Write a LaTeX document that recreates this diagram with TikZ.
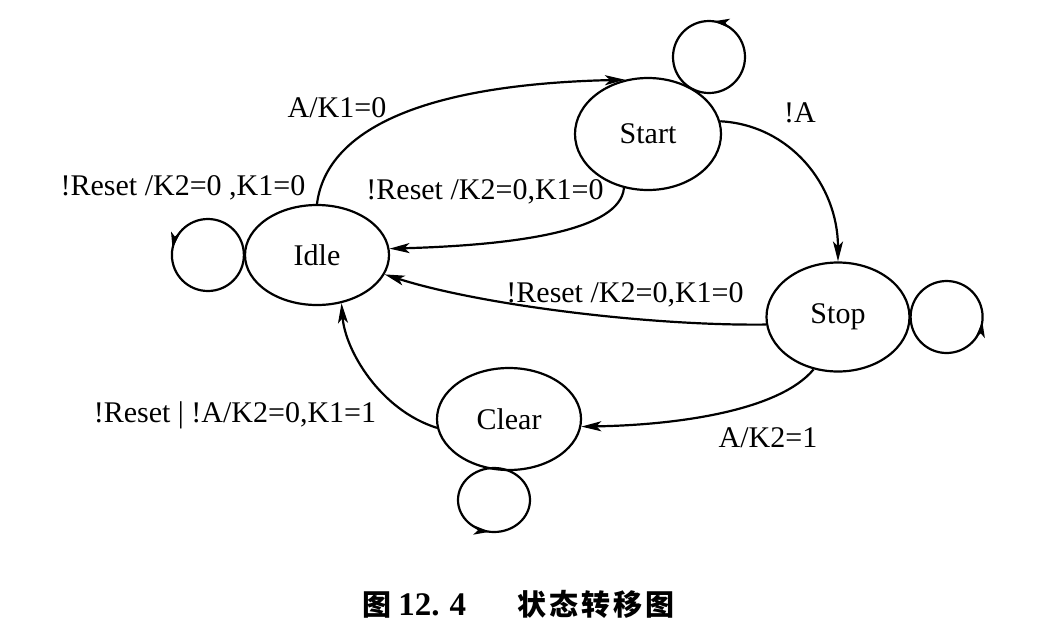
\documentclass[tikz,border=0pt]{standalone}
\usepackage{fontspec}
\setmainfont{Liberation Serif}
\newfontfamily\cjk{Noto Sans CJK SC}
\usetikzlibrary{arrows.meta,shapes.geometric,decorations.markings,calc}
\begin{document}
\begin{tikzpicture}[x=0.5pt,y=-0.5pt,
  state/.style={ellipse,draw,line width=1.1pt,inner sep=0pt,font=\fontsize{15}{18}\selectfont},
  tip/.style={-{Stealth[length=10pt,width=5pt,inset=2.5pt]}},
  trans/.style={line width=1.1pt,tip},
  lbl/.style={inner sep=0pt,font=\fontsize{15}{18}\selectfont},
  selfloop/.style={line width=1.1pt,decoration={markings,mark=at position #1 with {\arrow{Stealth[length=8pt,width=4.5pt,inset=2pt]}}},postaction=decorate},
  selfloop/.default=0.5
]
\fill[white] (0,0) rectangle (1045,633);
\useasboundingbox (0,0) rectangle (1045,633);

% states
\node[state,minimum width=72pt,minimum height=50pt] (idle) at (317,255) {Idle};
\node[state,minimum width=73pt,minimum height=56pt] (start) at (648,134) {Start};
\node[state,minimum width=71.5pt,minimum height=54.5pt] (stop) at (838,317) {Stop};
\node[state,minimum width=72pt,minimum height=51pt] (clear) at (509,419) {Clear};

% transitions
\draw[trans] (idle.north) .. controls (325,140) and (400,85) .. (start.113);
\draw[trans] (start.246) .. controls (620,230) and (520,245) .. (idle.5);
\draw[trans] (start.10) .. controls (790,125) and (838,185) .. (stop.north);
\draw[trans] (stop.186) .. controls (650,326) and (480,305) .. (idle.344);
\draw[trans] (stop.245) .. controls (780,410) and (680,425) .. (clear.354);
\draw[trans] (clear.187) .. controls (380,410) and (345,350) .. (idle.297);

% self loops
\draw[selfloop=0.47] (idle.west) arc[start angle=0,delta angle=360,radius=18pt];
\draw[selfloop=0.23] ($(start.center)+(97,-77)$) arc[start angle=0,delta angle=360,radius=18pt];
\draw[selfloop=0.48] (stop.east) arc[start angle=180,delta angle=360,radius=18pt];
\draw[selfloop=0.48] ($(clear.center)+(-15,49)$) arc[start angle=90,delta angle=360,x radius=18pt,y radius=16pt];

% labels
\node[lbl] (l1) at (337,108) {A/K1=0};
\node[lbl] (l2) at (183,188) {!Reset /K2=0 ,K1=0};
\node[lbl] (l3) at (485,192) {!Reset /K2=0,K1=0};
\node[lbl] (l4) at (800,113) {!A};
\node[lbl] (l5) at (625,295) {!Reset /K2=0,K1=0};
\node[lbl] (l6) at (768,438) {A/K2=1};
\node[lbl] (l7) at (235,415) {!Reset | !A/K2=0,K1=1};

% caption
\node[anchor=west,inner sep=0pt,font=\fontsize{14.5}{17}\selectfont] (cap) at (362,604)
  {\cjk\bfseries 图\hspace{3.5pt}{\rmfamily\bfseries\fontsize{16.5}{18}\selectfont 12.\hspace{5pt}4}\hspace{25.5pt}状\hspace{1.5pt}态\hspace{1.5pt}转\hspace{1.5pt}移\hspace{1.5pt}图};
\end{tikzpicture}
\end{document}
